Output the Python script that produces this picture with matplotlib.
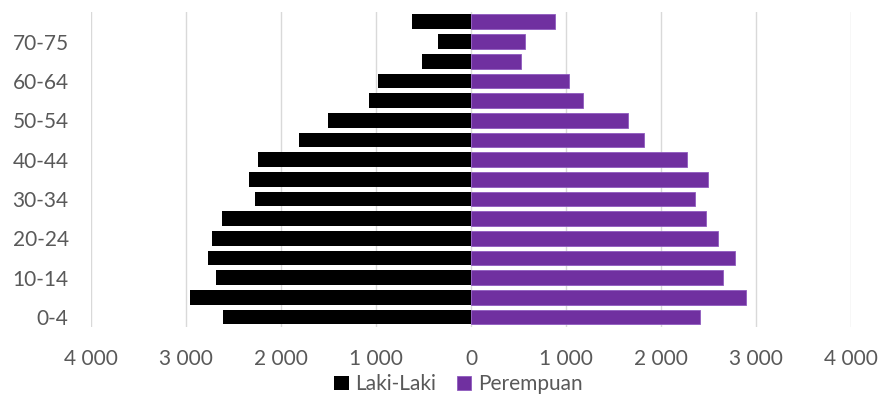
import matplotlib
matplotlib.use("Agg")
import matplotlib.pyplot as plt
from matplotlib.ticker import FuncFormatter

age_groups = ["0-4", "5-9", "10-14", "15-19", "20-24", "25-29", "30-34", "35-39",
              "40-44", "45-49", "50-54", "55-59", "60-64", "65-69", "70-75", "75+"]
laki_laki = [2607, 2955, 2688, 2768, 2731, 2618, 2274, 2337,
             2246, 1807, 1505, 1078, 983, 516, 348, 618]
perempuan = [2410, 2895, 2648, 2775, 2603, 2474, 2354, 2495,
             2277, 1817, 1653, 1175, 1035, 526, 564, 884]
x_ticks = [-4000, -3000, -2000, -1000, 0, 1000, 2000, 3000, 4000]

plt.rcParams["font.family"] = ["Lato", "DejaVu Sans"]

fig = plt.figure(figsize=(8.83, 4.01), dpi=100)
ax = fig.add_axes([0.103, 0.185, 0.861, 0.785])

y = list(range(len(age_groups)))
ax.barh(y, [-v for v in laki_laki], height=0.75, color="#000000",
        label="Laki-Laki", zorder=3)
ax.barh(y, perempuan, height=0.75, color="#7030A0", edgecolor="#8F5BBF",
        linewidth=0.6, label="Perempuan", zorder=3)

ax.set_xlim(-4000, 4000)
ax.set_ylim(-0.5, len(age_groups) - 0.5)
ax.set_xticks(x_ticks)
ax.xaxis.set_major_formatter(FuncFormatter(
    lambda v, p: f"{abs(int(v)):,}".replace(",", " ")))
ax.set_yticks(y[::2])
ax.set_yticklabels(age_groups[::2])

ax.grid(axis="x", color="#D9D9D9", linewidth=1.0, zorder=0)
for s in ax.spines.values():
    s.set_visible(False)
ax.tick_params(axis="both", length=0, labelsize=15, labelcolor="#595959")
ax.tick_params(axis="x", pad=16)
ax.tick_params(axis="y", pad=16)

fig.legend(loc="center", bbox_to_anchor=(0.519, 0.042), ncol=2,
           frameon=False, fontsize=15, labelcolor="#595959",
           handlelength=0.7, handleheight=0.7, handletextpad=0.3,
           columnspacing=1.0, borderpad=0.0)

fig.savefig("out.png", dpi=100)
